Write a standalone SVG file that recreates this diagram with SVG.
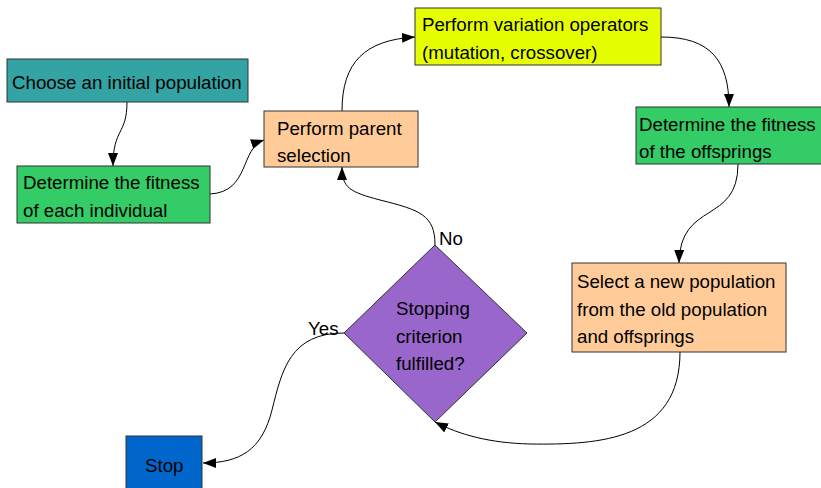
<svg xmlns="http://www.w3.org/2000/svg" width="821" height="488" viewBox="0 0 821 488">
<style>
.box{stroke:#333333;stroke-width:1}
.t{font-family:"Liberation Sans",Arial,sans-serif;font-size:18.7px;fill:#000}
.c{fill:none;stroke:#000;stroke-width:1}
</style>
<defs>
<marker id="ah" markerUnits="userSpaceOnUse" markerWidth="14" markerHeight="12" refX="13" refY="5" orient="auto">
<path d="M0,0 L13,5 L0,10 Z" fill="#000"/>
</marker>
</defs>
<rect width="821" height="488" fill="#ffffff"/>
<g id="connectors">
<path class="c" marker-end="url(#ah)" d="M127,102 C127,135 113,128 113,166"/>
<path class="c" marker-end="url(#ah)" d="M210,194 C250,192 240,148 264,140"/>
<path class="c" marker-end="url(#ah)" d="M342,111 C342,62 365,40 415,37"/>
<path class="c" marker-end="url(#ah)" d="M661,37 C710,37 729,60 729,107"/>
<path class="c" marker-end="url(#ah)" d="M738,164 C738,225 680,200 679,263"/>
<path class="c" marker-end="url(#ah)" d="M680,352 C680,440 600,445 530,444 C490,443 460,435 435,422"/>
<path class="c" marker-end="url(#ah)" d="M435,245 C435,215 420,210 380,200 C350,192 342,188 342,167"/>
<path class="c" marker-end="url(#ah)" d="M344,333 C290,333 282,370 272,410 C262,450 240,463 203,463"/>
<text class="t" x="439" y="245">No</text>
<text class="t" x="308" y="335">Yes</text>
</g>
<g id="n1">
<rect class="box" x="7" y="59" width="241" height="43" fill="#33a3a3"/>
<text class="t" x="12" y="89">Choose an initial population</text>
</g>
<g id="n2">
<rect class="box" x="17" y="166" width="193" height="57" fill="#33cc66"/>
<text class="t" x="23" y="189">Determine the fitness</text>
<text class="t" x="23" y="217">of each individual</text>
</g>
<g id="n3">
<rect class="box" x="264" y="111" width="154" height="56" fill="#ffcc99"/>
<text class="t" x="277" y="135">Perform parent</text>
<text class="t" x="277" y="162">selection</text>
</g>
<g id="n4">
<rect class="box" x="415" y="8" width="246" height="57" fill="#e6ff00"/>
<text class="t" x="422" y="31">Perform variation operators</text>
<text class="t" x="422" y="59">(mutation, crossover)</text>
</g>
<g id="n5">
<rect class="box" x="636" y="107" width="190" height="57" fill="#33cc66"/>
<text class="t" x="639" y="131">Determine the fitness</text>
<text class="t" x="639" y="158">of the offsprings</text>
</g>
<g id="n6">
<rect class="box" x="572" y="263" width="214" height="89" fill="#ffcc99"/>
<text class="t" x="577" y="288">Select a new population</text>
<text class="t" x="577" y="316">from the old population</text>
<text class="t" x="577" y="343">and offsprings</text>
</g>
<g id="n7">
<polygon class="box" points="435,245 527,333 435,422 344,333" fill="#9966cc"/>
<text class="t" x="396" y="315">Stopping</text>
<text class="t" x="396" y="343">criterion</text>
<text class="t" x="396" y="370">fulfilled?</text>
</g>
<g id="n8">
<rect class="box" x="126" y="436" width="76" height="60" fill="#0066cc"/>
<text class="t" x="145" y="472">Stop</text>
</g>
</svg>
